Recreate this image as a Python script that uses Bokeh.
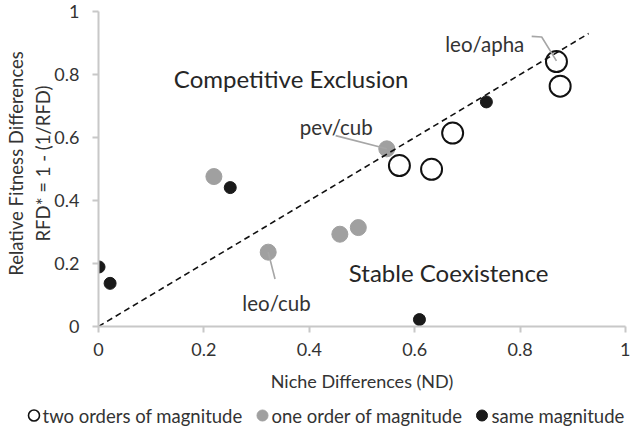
from bokeh.plotting import figure
from bokeh.models import Range1d, Label, FixedTicker
from bokeh.embed import file_html
from bokeh.resources import INLINE

# ---------------- data ----------------
# two orders of magnitude (open circles)
two_nd = [0.571, 0.632, 0.672, 0.869, 0.876]
two_rfd = [0.511, 0.499, 0.614, 0.841, 0.763]
# one order of magnitude (grey)
one_nd = [0.219, 0.547, 0.322, 0.458, 0.493]
one_rfd = [0.476, 0.564, 0.236, 0.293, 0.314]
# same magnitude (black)
same_nd = [0.250, 0.736, 0.001, 0.022, 0.609]
same_rfd = [0.441, 0.713, 0.189, 0.137, 0.022]
# 1:1 boundary line
boundary_nd = [0.0, 0.93]
boundary_rfd = [0.0, 0.93]
ticks = [0, 0.2, 0.4, 0.6, 0.8, 1]
tick_labels = {0: "0", 0.2: "0.2", 0.4: "0.4", 0.6: "0.6", 0.8: "0.8", 1: "1"}
series_names = ["two orders of magnitude", "one order of magnitude", "same magnitude"]

# callouts: text, text anchor (x, baseline y), leader line (xs, ys)
callouts = [
    ("leo/apha", 0.658, 0.897, [0.822, 0.841, 0.869], [0.921, 0.919, 0.843]),
    ("pev/cub", 0.382, 0.634, [0.450, 0.547], [0.606, 0.564]),
    ("leo/cub", 0.273, 0.076, [0.335, 0.322], [0.151, 0.236]),
]

FONT = "Lato"
TXT = "#333333"
STYLES = [
    dict(fill_color=None, line_color="#111111", line_width=2),
    dict(fill_color="#a0a0a0", line_color="#a0a0a0"),
    dict(fill_color="#1a1a1a", line_color="#1a1a1a"),
]
SIZES = [21, 16, 12]

p = figure(width=630, height=400, output_backend="svg", toolbar_location=None,
           x_range=Range1d(0, 1), y_range=Range1d(0, 326 / 315),
           min_border_left=98, min_border_right=5, min_border_top=0,
           min_border_bottom=74)
p.outline_line_color = None
p.xgrid.visible = False
p.ygrid.visible = False

for ax in (p.xaxis[0], p.yaxis[0]):
    ax.bounds = (0, 1)
    ax.ticker = FixedTicker(ticks=ticks)
    ax.major_label_overrides = tick_labels
    ax.axis_line_color = "#c8c8c8"
    ax.axis_line_width = 2
    ax.major_tick_line_color = "#c8c8c8"
    ax.major_tick_line_width = 2
    ax.major_tick_in = 0
    ax.major_tick_out = 6
    ax.minor_tick_line_color = None
    ax.major_label_text_font = FONT
    ax.major_label_text_font_size = "18px"
    ax.major_label_text_color = TXT
    ax.axis_label_text_font = FONT
    ax.axis_label_text_font_size = "18px"
    ax.axis_label_text_font_style = "normal"
    ax.axis_label_text_color = TXT

p.xaxis.major_label_standoff = 10
p.yaxis.major_label_standoff = 13
p.xaxis.axis_label = "Niche Differences (ND)"
p.xaxis.axis_label_standoff = 11
p.yaxis.axis_label = "Relative Fitness Differences\nRFD* = 1 - (1/RFD)"
p.yaxis.axis_label_text_font_size = "18.5px"
p.yaxis.axis_label_text_line_height = 1.25
p.yaxis.axis_label_standoff = -3

p.scatter(two_nd, two_rfd, size=SIZES[0], **STYLES[0])
p.scatter(one_nd, one_rfd, size=SIZES[1], **STYLES[1])
p.scatter(same_nd, same_rfd, size=SIZES[2], **STYLES[2])

p.line(boundary_nd, boundary_rfd, line_color="#111111", line_width=1.6, line_dash="6 4")

for text, tx, ty, lx, ly in callouts:
    p.line(lx, ly, line_color="#a6a6a6", line_width=1.6)
    p.add_layout(Label(x=tx, y=ty, text=text, text_align="left", text_baseline="alphabetic",
                       text_font=FONT, text_font_size="20.5px", text_color=TXT))

p.add_layout(Label(x=0.143, y=0.786, text="Competitive Exclusion", text_baseline="alphabetic",
                   text_font=FONT, text_font_size="24px", text_color="#262626"))
p.add_layout(Label(x=0.475, y=0.170, text="Stable Coexistence", text_baseline="alphabetic",
                   text_font=FONT, text_font_size="24px", text_color="#262626"))

# ---------------- legend strip (separate root, pixel coordinates) ----------------
LEG_W, LEG_H = 630, 26
leg_marker_x = [33.5, 262, 481.5]
leg_text_x = [42, 271, 491]
leg_y = 11

lg = figure(width=LEG_W, height=LEG_H, output_backend="svg", toolbar_location=None,
            x_range=Range1d(0, LEG_W), y_range=Range1d(0, LEG_H),
            x_axis_type=None, y_axis_type=None,
            min_border_left=0, min_border_right=0, min_border_top=0, min_border_bottom=0)
lg.outline_line_color = None
lg.xgrid.visible = False
lg.ygrid.visible = False
for name, st, mx, tx in zip(series_names, STYLES, leg_marker_x, leg_text_x):
    s = dict(st)
    if s.get("line_width"):
        s["line_width"] = 1.6
    lg.scatter([mx], [leg_y], size=11, **s)
    lg.add_layout(Label(x=tx, y=leg_y, text=name, text_baseline="middle", text_align="left",
                        text_font=FONT, text_font_size="18.5px", text_color=TXT))

open("out.html", "w").write(file_html([p, lg], INLINE))
